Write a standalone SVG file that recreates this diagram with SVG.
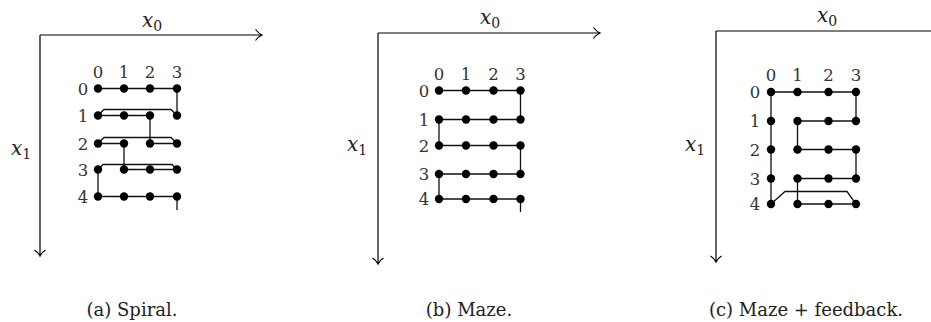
<svg xmlns="http://www.w3.org/2000/svg" width="931" height="322" viewBox="0 0 931 322">
<style>
.ax{fill:none;stroke:#000;stroke-width:1.2}
.ln{fill:none;stroke:#111;stroke-width:1.3}
.dot{fill:#000}
.num{font-family:"DejaVu Serif",serif;font-size:16.5px;fill:#333;text-anchor:middle}
.lab{font-family:"DejaVu Serif",serif;font-size:20px;fill:#222;text-anchor:middle}
.cap{font-family:"DejaVu Serif",serif;font-size:18px;fill:#222;text-anchor:middle}
</style>
<defs>
<g id="d"><circle r="4.2" class="dot"/></g>
</defs>
<rect width="931" height="322" fill="#fff"/>

<!-- Panel (a) -->
<g id="axes-a">
<path class="ax" d="M40,35 H262 M255.5,29.5 Q258.5,33.5 262,35 Q258.5,36.5 255.5,40.5 M40,35 V256 M34.5,250 Q38.5,252.5 40,256 Q41.5,252.5 45.5,250"/>
<text class="lab" x="152" y="27"><tspan font-style="italic">x</tspan><tspan font-size="14" dy="4">0</tspan></text>
<text class="lab" x="21" y="155"><tspan font-style="italic">x</tspan><tspan font-size="14" dy="4">1</tspan></text>
</g>
<g id="connectors-a">
<path class="ln" d="M98,88.5 H177 V115.5 M98,115.5 H150 M98,115.5 L104,109.5 H171 L177,115.5 M150,115.5 V143.5 M98,143.5 H124 M150,143.5 H177 M98,143.5 L104,137.5 H171 L177,143.5 M124,143.5 V169.5 M124,169.5 H177 M98,169.5 L103,164.5 H172 L177,169.5 M98,169.5 V196.5 H177 V210"/>
</g>
<g id="nodes-a">
<g class="num">
<text x="98" y="78">0</text><text x="124" y="78">1</text><text x="150" y="78">2</text><text x="177" y="78">3</text>
<text x="83" y="94.5">0</text><text x="83" y="121.5">1</text><text x="83" y="149.5">2</text><text x="83" y="175.5">3</text><text x="83" y="202.5">4</text>
</g>
<use href="#d" x="98" y="88.5"/><use href="#d" x="124" y="88.5"/><use href="#d" x="150" y="88.5"/><use href="#d" x="177" y="88.5"/>
<use href="#d" x="98" y="115.5"/><use href="#d" x="124" y="115.5"/><use href="#d" x="150" y="115.5"/><use href="#d" x="177" y="115.5"/>
<use href="#d" x="98" y="143.5"/><use href="#d" x="124" y="143.5"/><use href="#d" x="150" y="143.5"/><use href="#d" x="177" y="143.5"/>
<use href="#d" x="98" y="169.5"/><use href="#d" x="124" y="169.5"/><use href="#d" x="150" y="169.5"/><use href="#d" x="177" y="169.5"/>
<use href="#d" x="98" y="196.5"/><use href="#d" x="124" y="196.5"/><use href="#d" x="150" y="196.5"/><use href="#d" x="177" y="196.5"/>
</g>
<text class="cap" x="132" y="316">(a) Spiral.</text>

<!-- Panel (b) -->
<g id="axes-b">
<path class="ax" d="M378,33 H600 M593.5,27.5 Q596.5,31.5 600,33 Q596.5,34.5 593.5,38.5 M378,33 V264 M372.5,258 Q376.5,260.5 378,264 Q379.5,260.5 383.5,258"/>
<text class="lab" x="490" y="24"><tspan font-style="italic">x</tspan><tspan font-size="14" dy="4">0</tspan></text>
<text class="lab" x="357" y="151"><tspan font-style="italic">x</tspan><tspan font-size="14" dy="4">1</tspan></text>
</g>
<g id="connectors-b">
<path class="ln" d="M439,90.5 H520.5 V119.5 H439 V145.5 H520.5 V174 H439 V199 H520.5 V212"/>
</g>
<g id="nodes-b">
<g class="num">
<text x="439" y="80">0</text><text x="466" y="80">1</text><text x="493.5" y="80">2</text><text x="520.5" y="80">3</text>
<text x="424" y="96.5">0</text><text x="424" y="125.5">1</text><text x="424" y="151.5">2</text><text x="424" y="180">3</text><text x="424" y="205">4</text>
</g>
<use href="#d" x="439" y="90.5"/><use href="#d" x="466" y="90.5"/><use href="#d" x="493.5" y="90.5"/><use href="#d" x="520.5" y="90.5"/>
<use href="#d" x="439" y="119.5"/><use href="#d" x="466" y="119.5"/><use href="#d" x="493.5" y="119.5"/><use href="#d" x="520.5" y="119.5"/>
<use href="#d" x="439" y="145.5"/><use href="#d" x="466" y="145.5"/><use href="#d" x="493.5" y="145.5"/><use href="#d" x="520.5" y="145.5"/>
<use href="#d" x="439" y="174"/><use href="#d" x="466" y="174"/><use href="#d" x="493.5" y="174"/><use href="#d" x="520.5" y="174"/>
<use href="#d" x="439" y="199"/><use href="#d" x="466" y="199"/><use href="#d" x="493.5" y="199"/><use href="#d" x="520.5" y="199"/>
</g>
<text class="cap" x="469" y="316">(b) Maze.</text>

<!-- Panel (c) -->
<g id="axes-c">
<path class="ax" d="M716,31 H938 M931.5,25.5 Q934.5,29.5 938,31 Q934.5,32.5 931.5,36.5 M716,31 V262 M710.5,256 Q714.5,258.5 716,262 Q717.5,258.5 721.5,256"/>
<text class="lab" x="827" y="22"><tspan font-style="italic">x</tspan><tspan font-size="14" dy="4">0</tspan></text>
<text class="lab" x="695" y="151"><tspan font-style="italic">x</tspan><tspan font-size="14" dy="4">1</tspan></text>
</g>
<g id="connectors-c">
<path class="ln" d="M771,204 V92 H856 V121 H797.5 V149.5 H856 V178.5 H797.5 V204 H856 L847,191.5 H785 L771,204"/>
</g>
<g id="nodes-c">
<g class="num">
<text x="771" y="81">0</text><text x="797.5" y="81">1</text><text x="828.5" y="81">2</text><text x="856" y="81">3</text>
<text x="755" y="98">0</text><text x="755" y="127">1</text><text x="755" y="155.5">2</text><text x="755" y="184.5">3</text><text x="755" y="210">4</text>
</g>
<use href="#d" x="771" y="92"/><use href="#d" x="797.5" y="92"/><use href="#d" x="828.5" y="92"/><use href="#d" x="856" y="92"/>
<use href="#d" x="771" y="121"/><use href="#d" x="797.5" y="121"/><use href="#d" x="828.5" y="121"/><use href="#d" x="856" y="121"/>
<use href="#d" x="771" y="149.5"/><use href="#d" x="797.5" y="149.5"/><use href="#d" x="828.5" y="149.5"/><use href="#d" x="856" y="149.5"/>
<use href="#d" x="771" y="178.5"/><use href="#d" x="797.5" y="178.5"/><use href="#d" x="828.5" y="178.5"/><use href="#d" x="856" y="178.5"/>
<use href="#d" x="771" y="204"/><use href="#d" x="797.5" y="204"/><use href="#d" x="828.5" y="204"/><use href="#d" x="856" y="204"/>
</g>
<text class="cap" x="806" y="316">(c) Maze + feedback.</text>
</svg>
